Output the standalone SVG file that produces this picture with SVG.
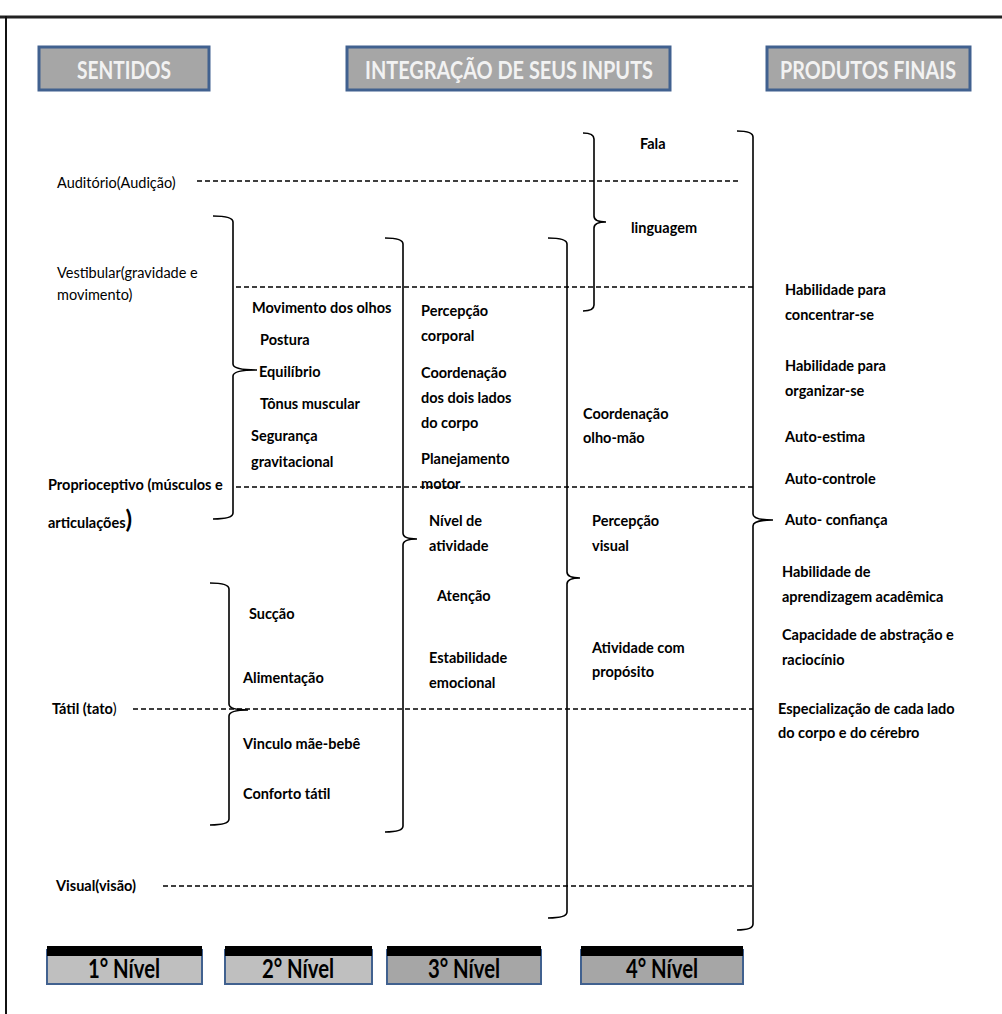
<svg xmlns="http://www.w3.org/2000/svg" width="1002" height="1014" viewBox="0 0 1002 1014">
<style>
.hdr{fill:#a6a6a6;stroke:#41618f;stroke-width:3}
.hdrt{font-family:Lato,"Open Sans","Liberation Sans",sans-serif;font-weight:bold;font-size:24px;fill:#f2f2f2;text-anchor:middle}
.t{font-family:Lato,"Liberation Sans",sans-serif;font-size:14.5px;fill:#000}
.b{font-weight:bold}
.dash{stroke:#000;stroke-width:1.6;stroke-dasharray:5,3;fill:none}
.br{stroke:#000;stroke-width:1.6;fill:none}
.lvl-bar{fill:#000}
.lvl-light{fill:#bfbfbf;stroke:#41618f;stroke-width:2}
.lvl-dark{fill:#a6a6a6;stroke:#41618f;stroke-width:2}
.lvlt{font-family:Lato,"Liberation Sans",sans-serif;font-weight:bold;font-size:26px;fill:#000;text-anchor:middle}
</style>
<rect width="1002" height="1014" fill="#fff"/>
<g id="frame">
<line x1="0" y1="17" x2="1002" y2="17" stroke="#222" stroke-width="3"/>
<line x1="6" y1="16" x2="6" y2="1014" stroke="#111" stroke-width="2"/>
</g>
<g id="header-sentidos"><rect class="hdr" x="39" y="47" width="170" height="43"/><text class="hdrt" x="124" y="79" textLength="94" lengthAdjust="spacingAndGlyphs">SENTIDOS</text></g>
<g id="header-integracao"><rect class="hdr" x="347" y="47" width="323" height="43"/><text class="hdrt" x="509" y="79" textLength="288" lengthAdjust="spacingAndGlyphs">INTEGRAÇÃO DE SEUS INPUTS</text></g>
<g id="header-produtos"><rect class="hdr" x="767" y="47" width="203" height="43"/><text class="hdrt" x="868" y="79" textLength="176" lengthAdjust="spacingAndGlyphs">PRODUTOS FINAIS</text></g>

<g id="connectors">
<line class="dash" x1="197" y1="181" x2="740" y2="181"/>
<line class="dash" x1="236" y1="287" x2="753" y2="287"/>
<line class="dash" x1="236" y1="487" x2="753" y2="487"/>
<line class="dash" x1="133" y1="709" x2="753" y2="709"/>
<line class="dash" x1="163" y1="886" x2="753" y2="886"/>
<path class="br" d="M213,216 Q233,216 233,222 L233,364 Q233,370 257,370 Q233,370 233,376 L233,513 Q233,519 213,519"/>
<path class="br" d="M385,238 Q403,238 403,244 L403,533 Q403,539 417,539 Q403,539 403,545 L403,826 Q403,832 385,832"/>
<path class="br" d="M548,238 Q567,238 567,244 L567,572 Q567,578 580,578 Q567,578 567,584 L567,912 Q567,918 548,918"/>
<path class="br" d="M583,133 Q594,133 594,139 L594,216 Q594,222 606,222 Q594,222 594,228 L594,305 Q594,311 583,311"/>
<path class="br" d="M737,131 Q753,131 753,137 L753,514 Q753,520 773,520 Q753,520 753,526 L753,924 Q753,930 737,930"/>
<path class="br" d="M210,583 Q229,583 229,589 L229,704 Q229,710 248,710 Q229,710 229,716 L229,819 Q229,825 210,825"/>
</g>

<g id="sentidos-labels">
<text class="t" x="57" y="188">Auditório(Audição)</text>
<text class="t" x="57" y="278">Vestibular(gravidade e</text>
<text class="t" x="57" y="300">movimento)</text>
<text class="t b" x="48" y="490">Proprioceptivo (músculos e</text>
<text class="t b" x="48" y="528">articulações<tspan font-size="24" font-weight="bold">)</tspan></text>
<text class="t b" x="52" y="714">Tátil (tato<tspan font-weight="normal">)</tspan></text>
<text class="t b" x="56" y="891">Visual(visão)</text>
</g>

<g id="nivel2-labels">
<text class="t b" x="252" y="313">Movimento dos olhos</text>
<text class="t b" x="260" y="345">Postura</text>
<text class="t b" x="259" y="377">Equilíbrio</text>
<text class="t b" x="260" y="409">Tônus muscular</text>
<text class="t b" x="251" y="441">Segurança</text>
<text class="t b" x="251" y="467">gravitacional</text>
<text class="t b" x="249" y="619">Sucção</text>
<text class="t b" x="243" y="683">Alimentação</text>
<text class="t b" x="243" y="749">Vinculo mãe-bebê</text>
<text class="t b" x="243" y="799">Conforto tátil</text>
</g>

<g id="nivel3-labels">
<text class="t b" x="421" y="316">Percepção</text>
<text class="t b" x="421" y="341">corporal</text>
<text class="t b" x="421" y="378">Coordenação</text>
<text class="t b" x="421" y="403">dos dois lados</text>
<text class="t b" x="421" y="428">do corpo</text>
<text class="t b" x="421" y="464">Planejamento</text>
<text class="t b" x="421" y="489">motor</text>
<text class="t b" x="429" y="526">Nível de</text>
<text class="t b" x="429" y="551">atividade</text>
<text class="t b" x="437" y="601">Atenção</text>
<text class="t b" x="429" y="663">Estabilidade</text>
<text class="t b" x="429" y="688">emocional</text>
</g>

<g id="nivel4-labels">
<text class="t b" x="640" y="149">Fala</text>
<text class="t b" x="631" y="233">linguagem</text>
<text class="t b" x="583" y="419">Coordenação</text>
<text class="t b" x="583" y="443">olho-mão</text>
<text class="t b" x="592" y="526">Percepção</text>
<text class="t b" x="592" y="551">visual</text>
<text class="t b" x="592" y="653">Atividade com</text>
<text class="t b" x="592" y="677">propósito</text>
</g>

<g id="produtos-labels">
<text class="t b" x="785" y="295">Habilidade para</text>
<text class="t b" x="785" y="320">concentrar-se</text>
<text class="t b" x="785" y="371">Habilidade para</text>
<text class="t b" x="785" y="396">organizar-se</text>
<text class="t b" x="785" y="442">Auto-estima</text>
<text class="t b" x="785" y="484">Auto-controle</text>
<text class="t b" x="785" y="525">Auto- confiança</text>
<text class="t b" x="782" y="577">Habilidade de</text>
<text class="t b" x="782" y="602">aprendizagem acadêmica</text>
<text class="t b" x="782" y="640">Capacidade de abstração e</text>
<text class="t b" x="782" y="665">raciocínio</text>
<text class="t b" x="778" y="714">Especialização de cada lado</text>
<text class="t b" x="778" y="738">do corpo e do cérebro</text>
</g>

<g id="nivel-1"><rect class="lvl-light" x="47" y="950" width="155" height="34"/><rect class="lvl-bar" x="47" y="946" width="155" height="10"/><text class="lvlt" x="124" y="978" textLength="72" lengthAdjust="spacingAndGlyphs">1° Nível</text></g>
<g id="nivel-2"><rect class="lvl-light" x="225" y="950" width="147" height="34"/><rect class="lvl-bar" x="225" y="946" width="147" height="10"/><text class="lvlt" x="298" y="978" textLength="72" lengthAdjust="spacingAndGlyphs">2° Nível</text></g>
<g id="nivel-3"><rect class="lvl-dark" x="387" y="950" width="154" height="34"/><rect class="lvl-bar" x="387" y="946" width="154" height="10"/><text class="lvlt" x="464" y="978" textLength="72" lengthAdjust="spacingAndGlyphs">3° Nível</text></g>
<g id="nivel-4"><rect class="lvl-dark" x="581" y="950" width="162" height="34"/><rect class="lvl-bar" x="581" y="946" width="162" height="10"/><text class="lvlt" x="662" y="978" textLength="72" lengthAdjust="spacingAndGlyphs">4° Nível</text></g>
</svg>
